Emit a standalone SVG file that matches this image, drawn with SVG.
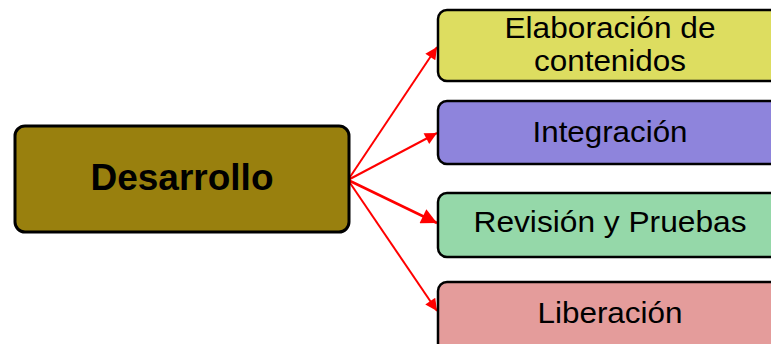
<svg xmlns="http://www.w3.org/2000/svg" width="771" height="344" viewBox="0 0 771 344">
  <defs>
    <marker id="arrow" viewBox="0 0 10 10" refX="10" refY="5" markerWidth="7" markerHeight="6" markerUnits="strokeWidth" orient="auto">
      <path d="M0,0 L10,5 L0,10 z" fill="#ff0000"/>
    </marker>
    <style>
      .box { stroke: #000; stroke-width: 2.5; }
      .label { font-family: "Liberation Sans", Arial, sans-serif; font-size: 30px; fill: #000; text-anchor: middle; }
      .main { font-size: 37px; font-weight: bold; }
      .edge { stroke: #ff0000; stroke-width: 2; fill: none; marker-end: url(#arrow); }
    </style>
  </defs>

  <g id="connectors">
    <line class="edge" x1="348" y1="180" x2="437" y2="47"/>
    <line class="edge" x1="348" y1="180" x2="437" y2="133"/>
    <line class="edge" x1="348" y1="180" x2="437" y2="223" style="stroke-width:2.6"/>
    <line class="edge" x1="348" y1="180" x2="437" y2="311"/>
  </g>

  <g id="desarrollo">
    <rect class="box" x="15" y="126" width="334" height="106" rx="10" fill="#99800e" style="stroke-width:3"/>
    <text class="label main" x="182" y="190">Desarrollo</text>
  </g>

  <g id="elaboracion">
    <rect class="box" x="438" y="10" width="346" height="71" rx="9" fill="#dddd60"/>
    <text class="label" x="610" y="38" textLength="211" lengthAdjust="spacingAndGlyphs">Elaboración de</text>
    <text class="label" x="610" y="71" textLength="152" lengthAdjust="spacingAndGlyphs">contenidos</text>
  </g>

  <g id="integracion">
    <rect class="box" x="438" y="101" width="346" height="63" rx="9" fill="#8e84dc"/>
    <text class="label" x="610" y="142" textLength="155" lengthAdjust="spacingAndGlyphs">Integración</text>
  </g>

  <g id="revision">
    <rect class="box" x="438" y="193" width="346" height="64" rx="9" fill="#95d8a9"/>
    <text class="label" x="610" y="232" textLength="273" lengthAdjust="spacingAndGlyphs">Revisión y Pruebas</text>
  </g>

  <g id="liberacion">
    <rect class="box" x="438" y="282" width="346" height="70" rx="9" fill="#e49c9b"/>
    <text class="label" x="610" y="323" textLength="145" lengthAdjust="spacingAndGlyphs">Liberación</text>
  </g>
</svg>
